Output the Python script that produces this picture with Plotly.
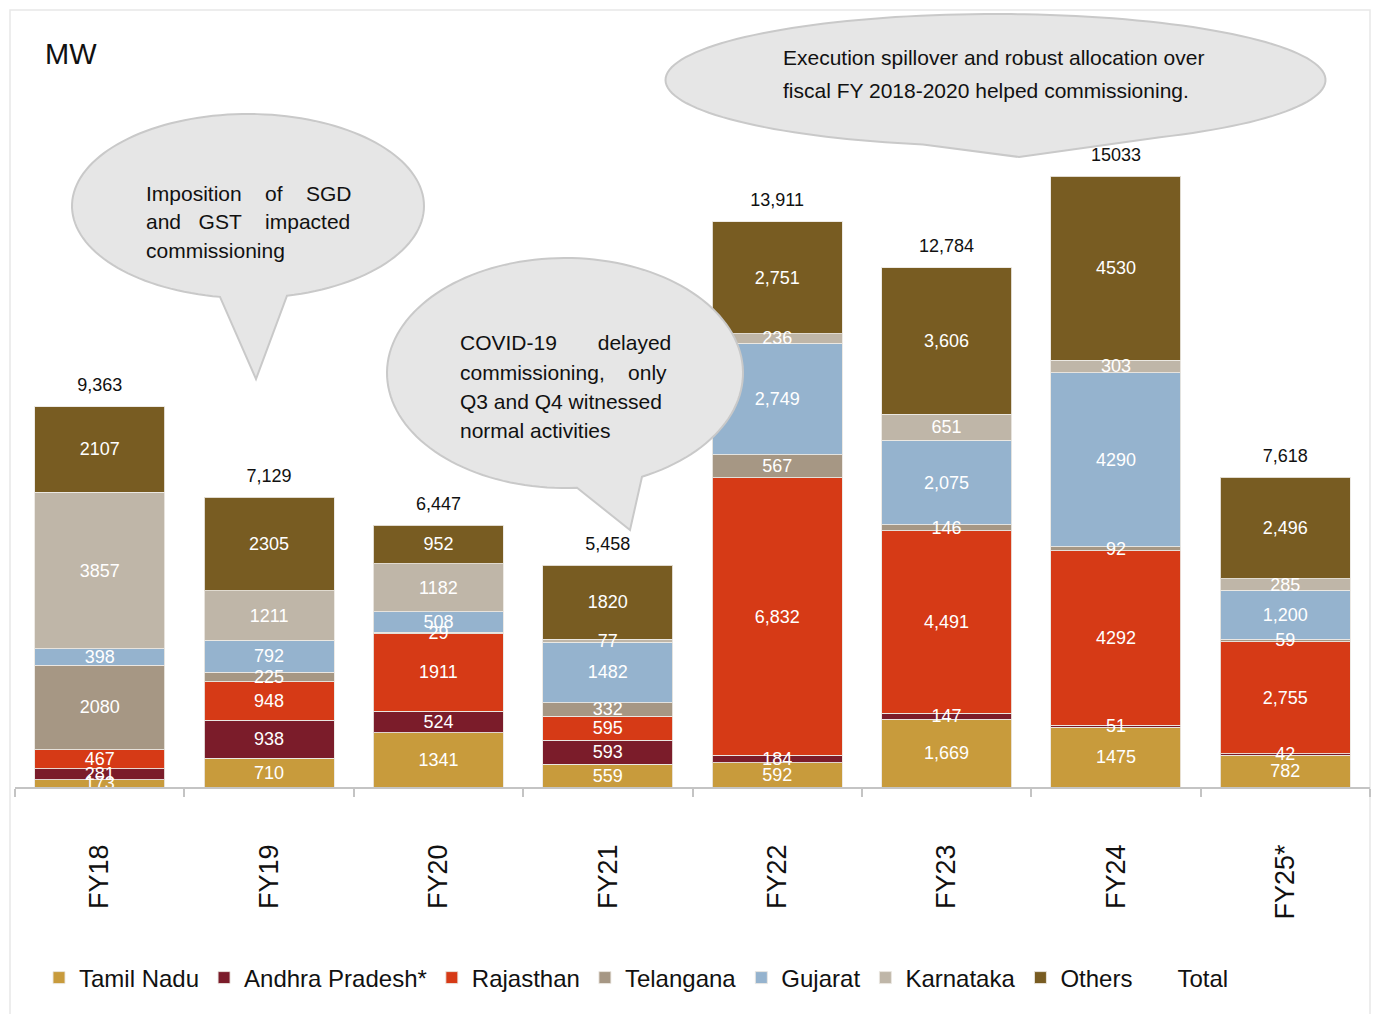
import math
import plotly.graph_objects as go

# ---- data (MW commissioned per state, per fiscal year) ----
years = ["FY18", "FY19", "FY20", "FY21", "FY22", "FY23", "FY24", "FY25*"]
tamil_nadu = [173, 710, 1341, 559, 592, 1669, 1475, 782]
andhra_pradesh = [281, 938, 524, 593, 184, 147, 51, 42]
rajasthan = [467, 948, 1911, 595, 6832, 4491, 4292, 2755]
telangana = [2080, 225, 29, 332, 567, 146, 92, 59]
gujarat = [398, 792, 508, 1482, 2749, 2075, 4290, 1200]
karnataka = [3857, 1211, 1182, 77, 236, 651, 303, 285]
others = [2107, 2305, 952, 1820, 2751, 3606, 4530, 2496]
totals = [9363, 7129, 6447, 5458, 13911, 12784, 15033, 7618]

# number formatting used by the source table for each year
segment_sep = [False, False, False, False, True, True, False, True]
total_sep = [True, True, True, True, True, True, False, True]

series = [
    ("Tamil Nadu", tamil_nadu, "#C89B3C"),
    ("Andhra Pradesh*", andhra_pradesh, "#7B1C2A"),
    ("Rajasthan", rajasthan, "#D63A16"),
    ("Telangana", telangana, "#A69784"),
    ("Gujarat", gujarat, "#95B3CE"),
    ("Karnataka", karnataka, "#BFB6A8"),
    ("Others", others, "#785C22"),
]

FONT = "Liberation Sans, Arial, sans-serif"


def fmt(v, sep):
    return f"{v:,}" if sep else f"{v}"


fig = go.Figure()

# coloured stacked bars
for name, vals, color in series:
    fig.add_trace(go.Bar(
        name=name,
        x=years,
        y=vals,
        marker=dict(color=color, line=dict(color="rgba(235,232,226,0.9)", width=1)),
        hoverinfo="skip",
    ))

# same stack on an overlaid axis pair, transparent, carrying the value labels
# so that every label is drawn above all bar segments
for name, vals, color in series:
    fig.add_trace(go.Bar(
        name=name,
        x=years,
        y=vals,
        xaxis="x2",
        yaxis="y2",
        showlegend=False,
        marker=dict(color="rgba(0,0,0,0)", line=dict(width=0)),
        text=[fmt(v, s) for v, s in zip(vals, segment_sep)],
        textposition="inside",
        insidetextanchor="middle",
        textangle=0,
        constraintext="none",
        textfont=dict(family=FONT, size=18, color="white"),
        cliponaxis=False,
        hoverinfo="skip",
    ))

fig.add_trace(go.Scatter(
    name="Total",
    x=years,
    y=totals,
    mode="markers+text",
    marker=dict(size=16, color="rgba(0,0,0,0)"),
    text=[fmt(v, s) for v, s in zip(totals, total_sep)],
    textposition="top center",
    textfont=dict(family=FONT, size=18, color="#111111"),
    cliponaxis=False,
    hoverinfo="skip",
))

# ---- geometry helpers for the speech bubbles (pixel -> paper) ----
L, R, T, B = 15, 6, 15, 227
W_PX, H_PX = 1376, 1014
PLOT_W = W_PX - L - R
PLOT_H = H_PX - T - B
AXIS_Y = H_PX - B


def px(x):
    return (x - L) / PLOT_W


def py(y):
    return (AXIS_Y - y) / PLOT_H


def bubble_path(cx, cy, rx, ry, x_left, tip, x_right, n=140):
    t_left = math.acos(max(-1, min(1, (x_left - cx) / rx)))
    t_right = math.acos(max(-1, min(1, (x_right - cx) / rx)))
    start, end = t_right, t_left - 2 * math.pi
    pts = []
    for i in range(n + 1):
        t = start + (end - start) * i / n
        pts.append((cx + rx * math.cos(t), cy + ry * math.sin(t)))
    pts.append(tip)
    d = "M " + " L ".join(f"{px(a):.5f},{py(b):.5f}" for a, b in pts) + " Z"
    return d


bubble_style = dict(type="path", xref="paper", yref="paper",
                    fillcolor="#E6E6E6", line=dict(color="#C9C9C9", width=2),
                    layer="above")

shapes = [
    # outer frame
    dict(type="rect", xref="paper", yref="paper",
         x0=px(10), x1=px(1370), y0=py(1030), y1=py(10),
         line=dict(color="#E8E8E8", width=1.5), fillcolor="rgba(0,0,0,0)",
         layer="below"),
    dict(path=bubble_path(248, 206, 176, 92, 220, (256, 379), 287), **bubble_style),
    dict(path=bubble_path(565, 373, 178, 115, 577, (630, 530), 642), **bubble_style),
    dict(path=bubble_path(995.5, 80, 330, 66, 923, (1019, 157), 1160), **bubble_style),
]

NB = "\u00a0"
annotations = [
    dict(text="MW", x=px(43), y=py(54), xanchor="left", yanchor="middle",
         font=dict(family=FONT, size=29, color="#111111")),
]


def add_lines(lines, x, y0, step, anchor="left", size=21):
    for i, line in enumerate(lines):
        annotations.append(dict(
            text=line, x=px(x), y=py(y0 + i * step), xanchor=anchor,
            yanchor="middle", font=dict(family=FONT, size=size, color="#111111")))


add_lines([f"Imposition{NB * 4}of{NB * 4}SGD",
           f"and{NB * 3}GST{NB * 4}impacted",
           "commissioning"], 144, 193, 29)
add_lines([f"COVID-19{NB * 7}delayed",
           f"commissioning,{NB * 4}only",
           "Q3 and Q4 witnessed",
           "normal activities"], 458, 343, 29)
add_lines(["Execution spillover and robust allocation over",
           "fiscal FY 2018-2020 helped commissioning."], 781, 58, 32)

for a in annotations:
    a.update(xref="paper", yref="paper", showarrow=False)

fig.update_layout(
    width=W_PX, height=H_PX,
    margin=dict(l=L, r=R, t=T, b=B),
    barmode="stack",
    bargap=0.233,
    plot_bgcolor="white",
    paper_bgcolor="white",
    font=dict(family=FONT, color="#111111"),
    showlegend=True,
    legend=dict(orientation="h", x=px(39), y=py(978), xanchor="left",
                yanchor="middle", traceorder="normal",
                font=dict(family=FONT, size=24, color="#111111"),
                itemclick=False, itemdoubleclick=False),
    shapes=shapes,
    annotations=annotations,
    hovermode=False,
)

fig.update_layout(
    xaxis=dict(
        type="category",
        showline=True, linecolor="#C4C4C4", linewidth=1.5,
        ticks="outside", tickson="boundaries", ticklen=8, tickcolor="#C4C4C4",
        tickwidth=1.5,
        tickangle=-90,
        tickfont=dict(family=FONT, size=27, color="#111111"),
        ticklabelstandoff=45,
        showgrid=False, zeroline=False,
    ),
    yaxis=dict(range=[0, 19000], visible=False, showgrid=False, zeroline=False),
    xaxis2=dict(type="category", overlaying="x", matches="x", visible=False),
    yaxis2=dict(overlaying="y", matches="y", visible=False),
)

fig.write_html("out.html")
